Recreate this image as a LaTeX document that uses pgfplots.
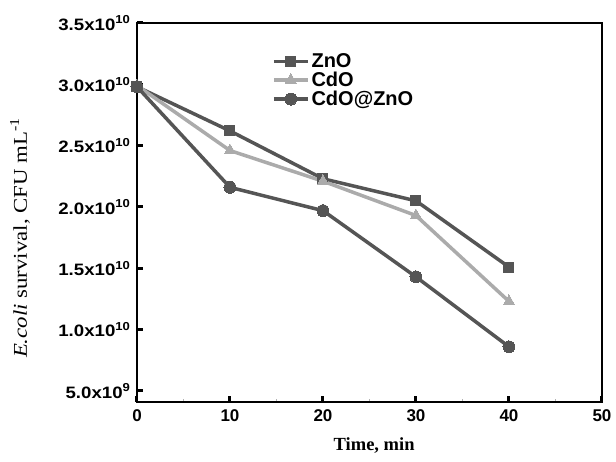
\documentclass[border=0pt]{standalone}
\usepackage{fontspec}
\setmainfont{Liberation Serif}
\setsansfont{Liberation Sans}
\usepackage{graphicx}
\usepackage{pgfplots}
\pgfplotsset{compat=1.18}

\definecolor{dk}{HTML}{555555}
\definecolor{lt}{HTML}{ABABAB}

\newcommand{\tl}[2]{\scalebox{1.13}[1]{\bfseries\sffamily #1x10\textsuperscript{#2}}}

\begin{document}
\begin{tikzpicture}
\begin{axis}[
  scale only axis,
  width=465pt, height=379pt,
  xmin=0, xmax=50,
  ymin=4.1e9, ymax=3.5e10,
  xtick={0,10,20,30,40,50},
  minor xtick={5,15,25,35,45},
  ytick={5e9,1e10,1.5e10,2e10,2.5e10,3e10,3.5e10},
  yticklabels={\tl{5.0}{9},\tl{1.0}{10},\tl{1.5}{10},\tl{2.0}{10},\tl{2.5}{10},\tl{3.0}{10},\tl{3.5}{10}},
  scaled y ticks=false,
  xtick pos=left, ytick pos=left,
  tick align=inside,
  major tick length=6pt,
  minor tick length=3pt,
  major tick style={line width=3pt, black},
  minor tick style={line width=0.6pt, gray!60},
  axis line style={line width=2.5pt},
  /pgf/number format/assume math mode=true,
  xticklabel style={font=\fontsize{17}{19}\selectfont\bfseries\sffamily, yshift=-4pt},
  yticklabel style={font=\fontsize{16.5}{18}\selectfont, xshift=-3pt},
  xlabel={\bfseries Time, min},
  ylabel={\scalebox{1.17}[1]{\textit{E.coli} survival, CFU mL\textsuperscript{-1}}},
  xlabel style={font=\fontsize{18.5}{20}\selectfont, at={(axis description cs:0.51,-0.116)}, anchor=center},
  ylabel style={font=\fontsize{19.5}{21}\selectfont, at={(axis description cs:-0.2516,0.433)}, anchor=center},
  legend style={draw=none, fill=none, at={(axis description cs:0.29,0.925)}, anchor=north west,
    font=\fontsize{20}{21}\selectfont\bfseries\sffamily, row sep=-1pt, inner sep=0pt},
  legend cell align=left,
  legend image code/.code={\draw[mark repeat=2,mark phase=2] plot coordinates {(0pt,0pt)(17pt,0pt)(34pt,0pt)};},
  clip=false,
]
\addplot[dk, line width=3.5pt, mark=square*, mark size=5pt, mark options={solid, line width=0pt}] coordinates {
(0,2.98e10) (10,2.62e10) (20,2.23e10) (30,2.05e10) (40,1.51e10)
};
\addlegendentry{ZnO}
\addplot[lt, line width=3.5pt, mark=triangle*, mark size=6.5pt, mark options={solid, line width=0pt}] coordinates {
(0,2.99e10) (10,2.46e10) (20,2.21e10) (30,1.93e10) (40,1.23e10)
};
\addlegendentry{CdO}
\addplot[dk, line width=3.5pt, mark=*, mark size=6pt, mark options={solid, line width=0pt}] coordinates {
(0,2.98e10) (10,2.16e10) (20,1.97e10) (30,1.43e10) (40,0.86e10)
};
\addlegendentry{CdO@ZnO}
\end{axis}
\pgfresetboundingbox
\path[use as bounding box] ([shift={(-137pt,-60pt)}]current axis.south west) rectangle ([shift={(479pt,402pt)}]current axis.south west);
\end{tikzpicture}
\end{document}
